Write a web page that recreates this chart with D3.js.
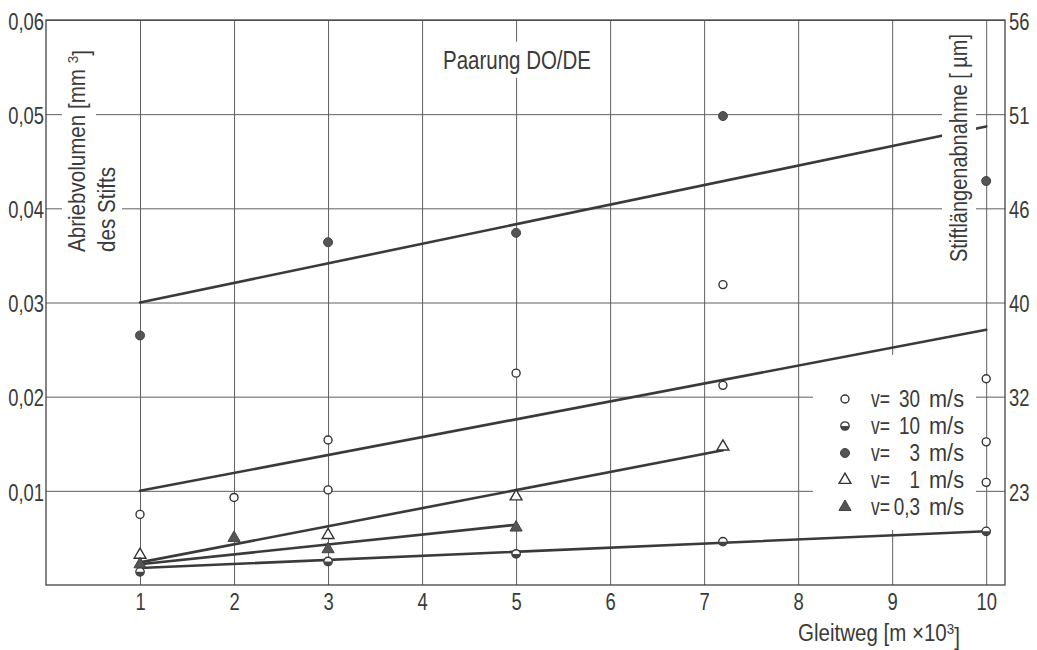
<!DOCTYPE html>
<html><head><meta charset="utf-8">
<script src="https://cdn.jsdelivr.net/npm/d3@7"></script>
<style>
body{margin:0;background:#fff;}
svg text{font-family:"Liberation Sans",Arial,sans-serif;fill:#3a3a3a;}
</style></head>
<body><svg id="c" width="1037" height="650"></svg>
<script>
// ---- data ----
const xTicks = [1,2,3,4,5,6,7,8,9,10];
const yTicks = [0.01,0.02,0.03,0.04,0.05,0.06];
const yTickLabels = ["0,01","0,02","0,03","0,04","0,05","0,06"];
const rightTickLabels = ["23","32","40","46","51","56"];

// v = 30 m/s (open circles)
const v30X = [1,2,3,3,5,7.2,7.2,10,10,10];
const v30Y = [0.0075,0.0093,0.0154,0.0101,0.0225,0.0319,0.0212,0.0219,0.0152,0.0109];
// v = 10 m/s (half-filled circles)
const v10X = [1,3,5,7.2,10];
const v10Y = [0.0014,0.0025,0.0033,0.0046,0.0057];
// v = 3 m/s (filled circles)
const v3X = [1,3,5,7.2,10];
const v3Y = [0.0265,0.0364,0.0374,0.0498,0.0429];
// v = 1 m/s (open triangles)
const v1X = [1,3,5,7.2];
const v1Y = [0.0032,0.0053,0.0094,0.0147];
// v = 0,3 m/s (filled triangles)
const v03X = [1,2,3,5];
const v03Y = [0.0022,0.0050,0.0038,0.0061];

// regression lines
const fitNames = ["v30","v10","v3","v1","v03"];
const fitX0 = [1,1,1,1,1];
const fitX1 = [10,10,10,7.2,5];
const fitY0 = [0.0100,0.0018,0.0300,0.0024,0.0022];
const fitY1 = [0.0271,0.0057,0.0487,0.0143,0.0064];

const legendValues = ["30","10","3","1","0,3"];
const legendKinds = ["openCircle","halfCircle","filledCircle","openTri","filledTri"];

// ---- drawing ----
const svg = d3.select("#c");
const L=46,R=1005,T=20,B=585;
const x = d3.scaleLinear().domain([0,10.2]).range([L,R]);
const y = d3.scaleLinear().domain([0,0.06]).range([B,T]);
const gridCol="#5f5f5f", lineCol="#3a3a3a";
const FS = "23px";

function squeeze(sel,f){
  sel.each(function(){
    const w=this.getComputedTextLength();
    d3.select(this).attr("textLength",w*f).attr("lengthAdjust","spacingAndGlyphs");
  });
}
function fitLen(sel,target){ sel.attr("textLength",target).attr("lengthAdjust","spacingAndGlyphs"); }
function scaleTo(sel,target){
  const w = sel.node().getBBox().width;
  sel.attr("transform",`scale(${target/w},1)`);
}

// grid + axes
const gx = svg.append("g").attr("transform",`translate(0,${B})`)
  .call(d3.axisBottom(x).tickValues(xTicks).tickSize(-(B-T)).tickPadding(9).tickFormat(d=>d));
const gy = svg.append("g").attr("transform",`translate(${L},0)`)
  .call(d3.axisLeft(y).tickValues(yTicks).tickSize(-(R-L)).tickPadding(2).tickFormat((d,i)=>yTickLabels[i]));
const gr = svg.append("g").attr("transform",`translate(${R},0)`)
  .call(d3.axisRight(y).tickValues(yTicks).tickSize(0).tickPadding(4).tickFormat((d,i)=>rightTickLabels[i]));
[gx,gy,gr].forEach(g=>{
  g.select(".domain").remove();
  g.selectAll("line").attr("stroke",gridCol).attr("stroke-width",1);
  g.selectAll("text").style("font-size",FS).style("font-family",null).attr("fill","#3a3a3a");
  squeeze(g.selectAll("text"),0.8);
});
gx.selectAll("text").attr("dy","0.68em");
gy.selectAll("text").attr("dy","0.4em");
gr.selectAll("text").attr("dy","0.4em");

// regression lines
const lg = svg.append("g");
fitNames.forEach((n,i)=>{
  lg.append("line").attr("x1",x(fitX0[i])).attr("x2",x(fitX1[i]))
    .attr("y1",y(fitY0[i])).attr("y2",y(fitY1[i]))
    .attr("stroke",lineCol).attr("stroke-width",2.6).attr("stroke-linecap","round");
});

function maskedText(g, pad){
  const t = g.select("text").node();
  const bb = t.getBBox();
  const tr = t.getAttribute("transform");
  let sx = 1;
  if(tr && tr.startsWith("scale(")) sx = parseFloat(tr.slice(6));
  g.insert("rect","text").attr("x",bb.x*sx-pad[0]).attr("y",bb.y-pad[1])
    .attr("width",bb.width*sx+2*pad[0]).attr("height",bb.height+2*pad[1]).attr("fill","#fff");
}

// title
const tg = svg.append("g").attr("transform","translate(443,60)");
fitLen(tg.append("text").attr("dy","0.35em").style("font-size","25px").text("Paarung DO/DE"),148);
maskedText(tg,[6,4]);

// left y label (two lines)
const l1 = svg.append("g").attr("transform","translate(77,252) rotate(-90)");
const t1 = l1.append("text").attr("dy","0.35em").style("font-size",FS);
t1.append("tspan").text("Abriebvolumen [mm ");
t1.append("tspan").attr("dy","-0.45em").style("font-size","15px").text("3");
t1.append("tspan").attr("dy","0.45em").text("]");
scaleTo(t1,202);
maskedText(l1,[4,2]);
const l2 = svg.append("g").attr("transform","translate(107,252) rotate(-90)");
fitLen(l2.append("text").attr("dy","0.35em").style("font-size",FS).text("des Stifts"),85);
maskedText(l2,[4,2]);

// right y label
const r1 = svg.append("g").attr("transform","translate(959,262) rotate(-90)");
fitLen(r1.append("text").attr("dy","0.35em").style("font-size",FS).text("Stiftlängenabnahme [ µm]"),228);
maskedText(r1,[4,4]);

// x axis title
const xg = svg.append("g").attr("transform","translate(798,641)");
const xt = xg.append("text").style("font-size",FS);
xt.append("tspan").text("Gleitweg [m  ×10");
xt.append("tspan").attr("dy","-0.45em").style("font-size","15px").text("3");
xt.append("tspan").attr("dy","0.45em").text("]");
scaleTo(xt,162);

// legend background (below the v=30 fit line)
svg.append("path").attr("d","M813,370 L976,339 L976,530 L813,530 Z").attr("fill","#fff");

function drawMark(g, kind, px, py){
  if(kind==="openCircle"){
    g.append("circle").attr("cx",px).attr("cy",py).attr("r",4).attr("fill","#fff").attr("stroke","#333").attr("stroke-width",1.4);
  } else if(kind==="filledCircle"){
    g.append("circle").attr("cx",px).attr("cy",py).attr("r",4.5).attr("fill","#555").attr("stroke","#444").attr("stroke-width",1);
  } else if(kind==="halfCircle"){
    g.append("circle").attr("cx",px).attr("cy",py).attr("r",4.2).attr("fill","#fff").attr("stroke","#333").attr("stroke-width",1.3);
    const arc = d3.arc().innerRadius(0).outerRadius(4.2).startAngle(Math.PI/2).endAngle(Math.PI*1.5);
    g.append("path").attr("d",arc()).attr("transform",`translate(${px},${py})`).attr("fill","#444");
  } else if(kind==="openTri"){
    g.append("path").attr("d",d3.symbol(d3.symbolTriangle,60)()).attr("transform",`translate(${px},${py})`)
      .attr("fill","#fff").attr("stroke","#333").attr("stroke-width",1.4);
  } else if(kind==="filledTri"){
    g.append("path").attr("d",d3.symbol(d3.symbolTriangle,64)()).attr("transform",`translate(${px},${py})`)
      .attr("fill","#555").attr("stroke","#444").attr("stroke-width",1);
  }
}
const leg = svg.append("g");
legendValues.forEach((v,i)=>{
  const cy = 399 + i*27;
  drawMark(leg, legendKinds[i], 845, cy);
  fitLen(leg.append("text").attr("x",871).attr("y",cy).attr("dy","0.35em").style("font-size",FS).text("v="),19);
  squeeze(leg.append("text").attr("x",920).attr("y",cy).attr("dy","0.35em").attr("text-anchor","end").style("font-size",FS).text(v),0.82);
  fitLen(leg.append("text").attr("x",929).attr("y",cy).attr("dy","0.35em").style("font-size",FS).text("m/s"),35);
});

// points
const pg = svg.append("g");
const seriesList = [[v30X,v30Y,"openCircle"],[v10X,v10Y,"halfCircle"],[v3X,v3Y,"filledCircle"],[v1X,v1Y,"openTri"],[v03X,v03Y,"filledTri"]];
seriesList.forEach(([xs,ys,k])=>{
  xs.forEach((xv,i)=>drawMark(pg,k,x(xv),y(ys[i])));
});

// frame
svg.append("rect").attr("x",L).attr("y",T).attr("width",R-L).attr("height",B-T)
  .attr("fill","none").attr("stroke","#444").attr("stroke-width",1.3);
</script></body></html>
